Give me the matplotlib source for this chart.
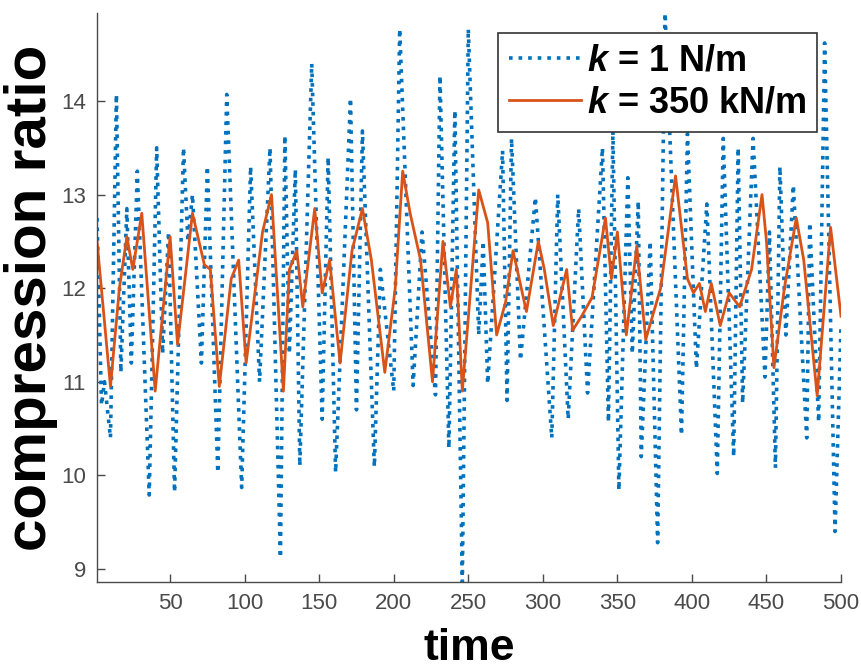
import matplotlib
matplotlib.use("Agg")
import matplotlib.pyplot as plt

plt.rcParams["font.family"] = ["Liberation Sans", "DejaVu Sans"]
plt.rcParams["mathtext.fontset"] = "custom"
plt.rcParams["mathtext.it"] = "Liberation Sans:italic:bold"
plt.rcParams["mathtext.rm"] = "Liberation Sans:bold"

# k = 1 N/m : turning points
t_soft = [1, 4, 6, 10, 14, 17, 21, 24, 28, 36, 41, 45, 49, 53, 59, 62, 65, 71, 75,
          82, 88, 98, 104, 110, 117, 124, 127, 130, 134, 137, 145, 152, 156, 161,
          171, 175, 179, 187, 191, 200, 204, 213, 219, 228, 231, 237, 241, 246,
          250, 257, 260, 263, 273, 276, 279, 285, 295, 306, 310, 317, 324, 330,
          340, 344, 347, 351, 357, 360, 364, 366, 372, 377, 382, 393, 397, 403,
          410, 417, 421, 428, 431, 434, 441, 449, 452, 456, 459, 463, 468, 477,
          479, 485, 489, 496, 500]
cr_soft = [12.75, 10.75, 11.0, 10.4, 14.07, 11.1, 12.85, 11.2, 13.25, 9.79, 13.5,
           11.3, 12.6, 9.82, 13.5, 12.5, 13.0, 11.2, 13.3, 10.03, 14.07, 9.87,
           13.3, 11.0, 13.5, 9.12, 13.63, 11.3, 13.27, 10.1, 14.4, 10.6, 13.4,
           10.03, 14.03, 10.7, 13.68, 10.09, 12.2, 10.9, 14.77, 10.96, 12.6,
           10.86, 14.27, 10.29, 13.9, 8.86, 14.77, 11.5, 12.5, 10.98, 13.47, 10.8,
           13.6, 11.23, 12.97, 10.4, 13.0, 10.6, 12.85, 10.88, 13.5, 10.57, 13.68,
           9.84, 13.18, 11.3, 12.93, 10.2, 12.5, 9.28, 14.94, 10.43, 13.65, 11.14,
           12.9, 10.02, 13.6, 10.2, 13.5, 10.77, 13.6, 11.05, 12.6, 10.08, 13.3,
           11.5, 13.1, 10.4, 12.7, 10.57, 14.62, 9.4, 11.6]

# k = 350 kN/m
t_stiff = [1, 10, 16, 21, 25, 31, 40, 50, 55, 65, 73, 77, 83, 91, 96, 101, 112,
           118, 126, 130, 135, 139, 147, 152, 157, 164, 172, 179, 185, 194, 201,
           206, 211, 218, 226, 233, 238, 242, 246, 257, 263, 269, 275, 280, 289,
           297, 301, 307, 316, 320, 326, 333, 342, 346, 350, 356, 363, 369, 379,
           389, 397, 401, 405, 409, 413, 419, 425, 432, 440, 447, 450, 455, 462,
           470, 475, 484, 493, 500]
cr_stiff = [12.5, 10.95, 12.0, 12.55, 12.2, 12.8, 10.9, 12.55, 11.4, 12.8, 12.25,
            12.2, 10.95, 12.1, 12.3, 11.2, 12.6, 13.0, 10.9, 12.2, 12.4, 11.8,
            12.85, 11.95, 12.3, 11.2, 12.4, 12.85, 12.3, 11.1, 12.0, 13.25, 12.8,
            12.3, 11.0, 12.5, 11.8, 12.2, 10.9, 13.05, 12.7, 11.5, 11.85, 12.4,
            11.75, 12.5, 12.2, 11.6, 12.2, 11.55, 11.7, 11.9, 12.75, 12.1, 12.6,
            11.5, 12.45, 11.45, 12.0, 13.2, 12.1, 11.95, 12.05, 11.75, 12.05, 11.6,
            11.95, 11.8, 12.2, 13.0, 12.5, 11.15, 12.0, 12.75, 12.3, 10.85, 12.65,
            11.7]

grey = "#4a4a4a"

fig = plt.figure(figsize=(8.61, 6.71), dpi=100)
ax = fig.add_axes([0.1127, 0.1326, 0.8641, 0.848])

ax.plot(t_soft, cr_soft, color="#0072BD", linestyle=":", linewidth=2.6,
        label="$k$ = 1 N/m")
ax.plot(t_stiff, cr_stiff, color="#D95319", linewidth=2.0,
        label="$k$ = 350 kN/m")

ax.set_xlim(1, 500)
ax.set_ylim(min(cr_soft), max(cr_soft))
ax.set_xticks([50, 100, 150, 200, 250, 300, 350, 400, 450, 500])
ax.set_yticks([9, 10, 11, 12, 13, 14])

ax.spines["top"].set_visible(False)
ax.spines["right"].set_visible(False)
for side in ("left", "bottom"):
    ax.spines[side].set_color(grey)
    ax.spines[side].set_linewidth(1.0)
ax.tick_params(direction="in", length=6, width=1.0, colors=grey,
               labelsize=16, labelcolor=grey, pad=8)

ax.set_xlabel("time", fontsize=32, fontweight="bold", labelpad=10)
ax.set_ylabel("compression ratio", fontsize=42, fontweight="bold", labelpad=2)

leg = ax.legend(loc="upper right", bbox_to_anchor=(0.968, 0.965),
                prop={"size": 26, "weight": "bold"}, frameon=True,
                fancybox=False, edgecolor="#333333", framealpha=1,
                handlelength=2.0, handletextpad=0.15, borderpad=0.3,
                labelspacing=0.2, borderaxespad=0)
leg.get_frame().set_linewidth(1.2)

fig.savefig("out.png", dpi=100)
